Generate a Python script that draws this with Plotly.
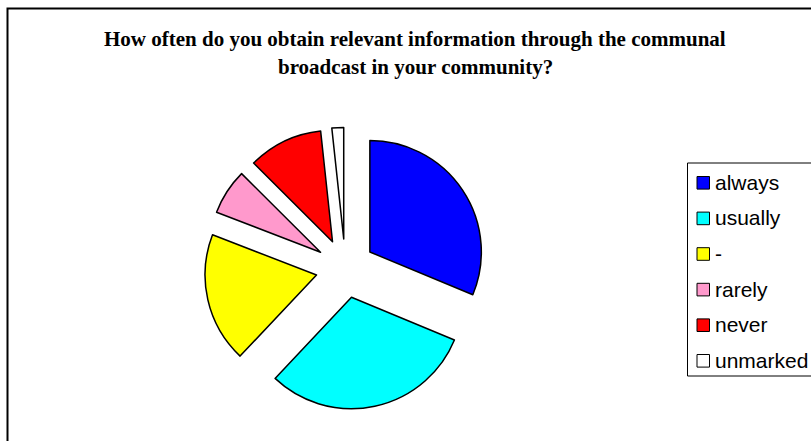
import plotly.graph_objects as go

# Survey answers (share of respondents, %)
labels = ["always", "usually", "-", "rarely", "never", "unmarked"]
shares = [31.2, 30.7, 18.8, 6.6, 10.8, 1.7]
colors = ["#0000FF", "#00FFFF", "#FFFF00", "#FF99CC", "#FF0000", "#FFFFFF"]

title_lines = [
    "How often do you obtain relevant information through the communal",
    "broadcast in your community?",
]

W, H = 811, 441


def px(x):
    return x / W


def py(y):
    return 1 - y / H


fig = go.Figure()

# exploded pie, every slice pulled out from the centre
fig.add_trace(go.Pie(
    labels=labels,
    values=shares,
    sort=False,
    direction="clockwise",
    rotation=0,
    pull=[0.265] * len(labels),
    marker=dict(colors=colors, line=dict(color="#000000", width=1.5)),
    textinfo="none",
    hoverinfo="label+percent",
    showlegend=False,
    domain=dict(x=[px(204.3), px(486.3)], y=[py(409.4), py(127.4)]),
))

shapes = []
annotations = []

# outer chart frame
shapes.append(dict(type="rect", xref="paper", yref="paper",
                   x0=px(7.5), y0=py(8.5), x1=px(830), y1=py(460),
                   line=dict(color="#000000", width=2), fillcolor="rgba(0,0,0,0)"))

# legend box
shapes.append(dict(type="rect", xref="paper", yref="paper",
                   x0=px(687.5), y0=py(163), x1=px(840), y1=py(376),
                   line=dict(color="#000000", width=1), fillcolor="#FFFFFF"))

row0, step = 182.8, 35.6
for i, (lab, col) in enumerate(zip(labels, colors)):
    cy = row0 + i * step
    shapes.append(dict(type="rect", xref="paper", yref="paper",
                       x0=px(697), y0=py(cy - 6.3), x1=px(709.5), y1=py(cy + 6.3),
                       line=dict(color="#000000", width=1), fillcolor=col))
    annotations.append(dict(text=lab, xref="paper", yref="paper",
                            x=px(713), y=py(cy - 0.5), xanchor="left", yanchor="middle",
                            showarrow=False,
                            font=dict(family="Liberation Sans, Arial", size=21, color="#000000")))

# two-line title
for text, yc in zip(title_lines, [38.5, 66.5]):
    annotations.append(dict(text="<b>" + text + "</b>", xref="paper", yref="paper",
                            x=px(415), y=py(yc), xanchor="center", yanchor="middle",
                            showarrow=False,
                            font=dict(family="Liberation Serif, Times New Roman", size=21,
                                      color="#000000")))

fig.update_layout(
    width=W, height=H,
    margin=dict(l=0, r=0, t=0, b=0, autoexpand=False),
    paper_bgcolor="#FFFFFF",
    plot_bgcolor="#FFFFFF",
    showlegend=False,
    shapes=shapes,
    annotations=annotations,
)

fig.write_html("out.html")
